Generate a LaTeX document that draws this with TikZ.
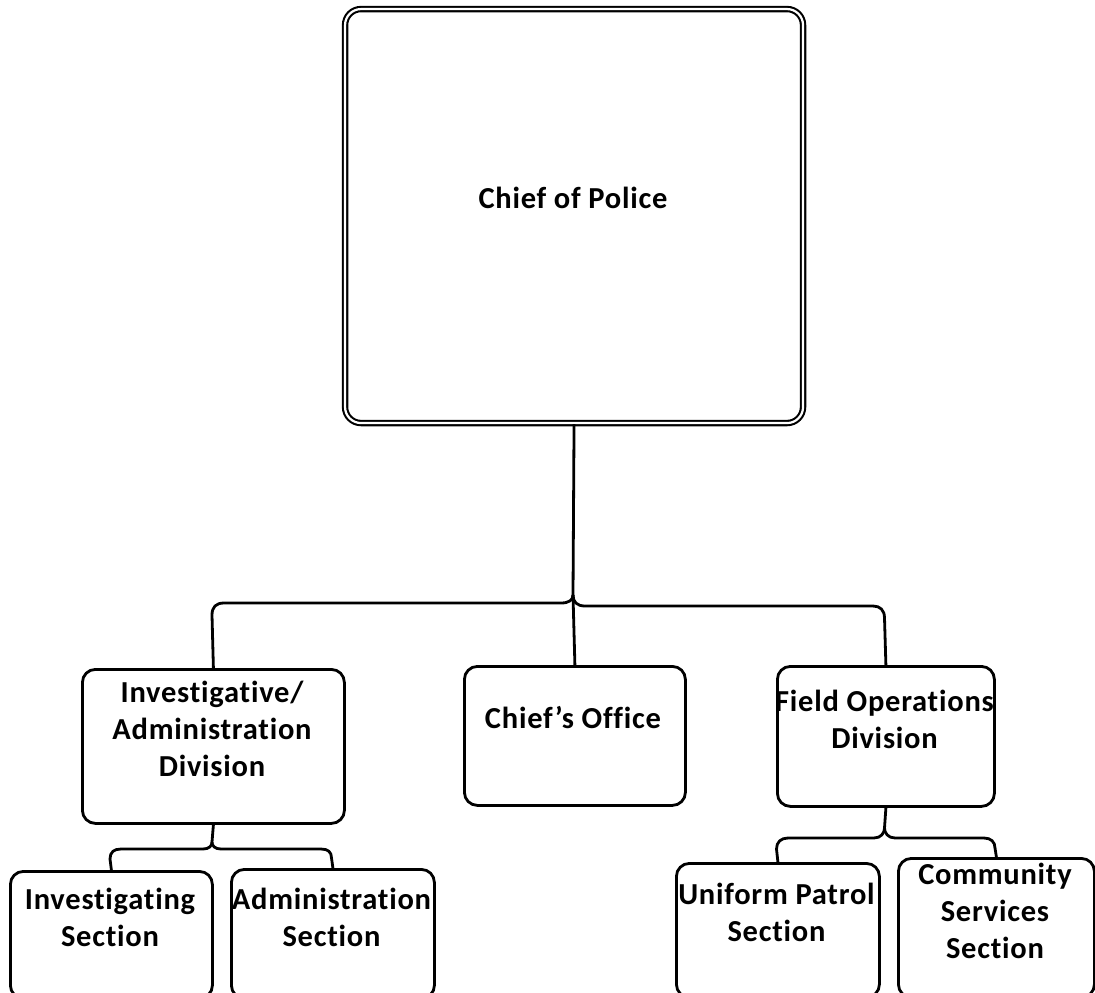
\documentclass[tikz,border=0pt]{standalone}
\usepackage{fontspec}
\setmainfont{Carlito}[Ligatures=NoCommon, LetterSpace=2.5]
\usetikzlibrary{calc}
\begin{document}
\begin{tikzpicture}[x=1pt,y=-1pt,
  box/.style={draw, line width=2.8pt, rounded corners=13pt, anchor=north west, inner sep=0pt},
  topbox/.style={draw, line width=2.1pt, double, double distance=2.2pt, rounded corners=16pt, anchor=north west, inner sep=0pt},
  lbl/.style={align=center, font=\bfseries\fontsize{30.5}{37}\selectfont, inner sep=0pt},
  conn/.style={line width=2.8pt}]
\useasboundingbox (0,0) rectangle (1095,993);

% boxes
\node[topbox, minimum width=458pt, minimum height=414pt] (chief) at (344,8) {};
\node[box, minimum width=262pt, minimum height=154pt] (inv) at (81,668) {};
\node[box, minimum width=221pt, minimum height=139pt] (office) at (463,665) {};
\node[box, minimum width=217pt, minimum height=140pt] (field) at (776,665) {};
\node[box, minimum width=202pt, minimum height=127pt] (invsec) at (9,870) {};
\node[box, minimum width=203pt, minimum height=129pt] (adminsec) at (230,868) {};
\node[box, minimum width=203pt, minimum height=134pt] (uniform) at (675,862) {};
\node[box, minimum width=196pt, minimum height=139pt] (community) at (897,857) {};

% labels
\node[lbl] (tchief) at (573,198) {Chief of Police};
\node[lbl] (tinv) at (212,729) {Investigative/\\Administration\\Division};
\node[lbl] (toffice) at (573,718) {Chief’s Office};
\node[lbl] (tfield) at (884.5,719) {Field Operations\\Division};
\node[lbl] (tinvsec) at (110,917) {Investigating\\Section};
\node[lbl] (tadminsec) at (331.5,917) {Administration\\Section};
\node[lbl] (tuniform) at (776.5,912) {Uniform Patrol\\Section};
\node[lbl] (tcommunity) at (995,911) {Community\\Services\\Section};

% junction points
\coordinate (m0) at (573,595);
\coordinate (a0) at (212,842);
\coordinate (f0) at (884.5,828);

% chief to divisions
\draw[conn] (chief.south) -- (m0);
\draw[conn] (m0) -- (office.north);
\draw[conn] (m0) .. controls (573,600) and (569,603) .. (561,603) -- (224,603)
  .. controls (216,603) and (212,607) .. (212,615) -- (inv.north);
\draw[conn] (m0) .. controls (573,602) and (577,606) .. (585,606) -- (873,606)
  .. controls (880,606) and (884.5,610) .. (884.5,618) -- (field.north);

% investigative/administration sections
\draw[conn] (inv.south) -- (a0);
\draw[conn] (a0) .. controls (212,846) and (209,849) .. (203,849) -- (121,849)
  .. controls (114,849) and (110,852) .. (110,859) -- (invsec.north);
\draw[conn] (a0) .. controls (212,846) and (215,849) .. (221,849) -- (321,849)
  .. controls (328,849) and (331.5,852) .. (331.5,858) -- (adminsec.north);

% field operations sections
\draw[conn] (field.south) -- (f0);
\draw[conn] (f0) .. controls (884.5,833) and (881,838) .. (874,838) -- (788,838)
  .. controls (781,838) and (776.5,842) .. (776.5,849) -- (uniform.north);
\draw[conn] (f0) .. controls (884.5,833) and (888,838) .. (895,838) -- (984,838)
  .. controls (991,838) and (995,842) .. (995,848) -- (community.north);
\end{tikzpicture}
\end{document}
